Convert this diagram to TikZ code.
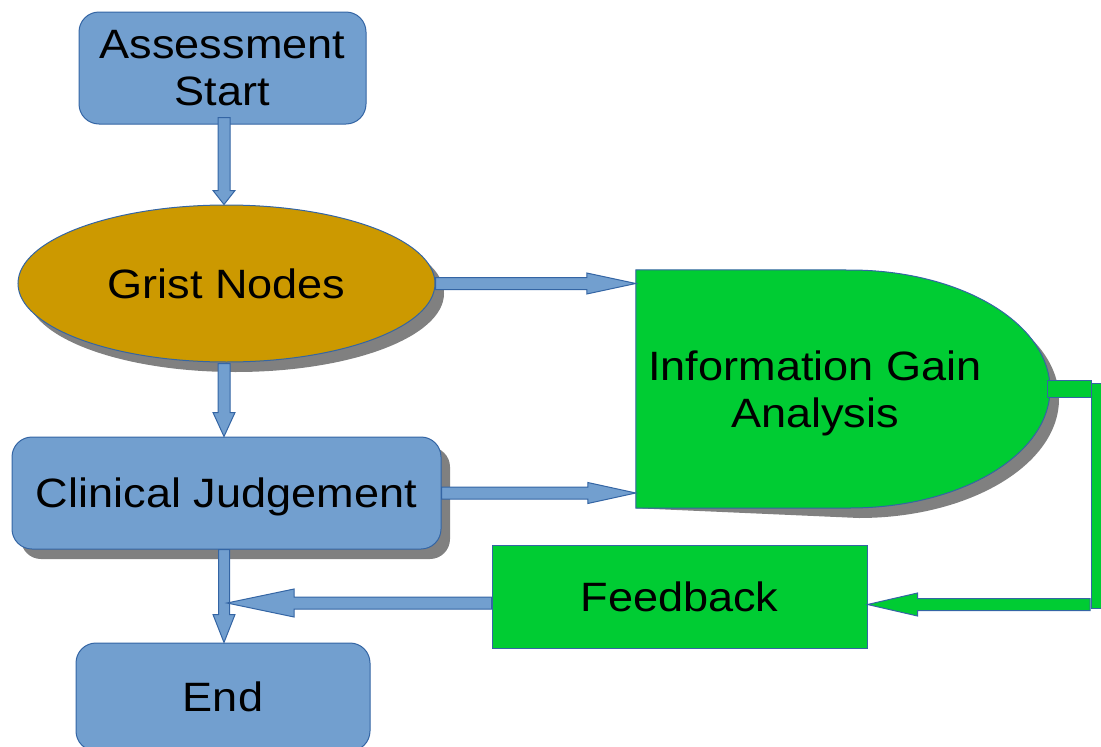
\documentclass[tikz,border=0pt]{standalone}
\usepackage{fontspec}
\setmainfont{Liberation Sans}
\usetikzlibrary{calc,shadows,shapes.geometric}
\definecolor{boxblue}{HTML}{729FCF}
\definecolor{lineblue}{HTML}{3465A4}
\definecolor{gristgold}{HTML}{CC9900}
\definecolor{flowgreen}{HTML}{00CC33}
\definecolor{shadowgray}{HTML}{808080}
\newcommand\sx[1]{\scalebox{1.1}[1]{#1}}
% block arrow: [style]{from}{to}{shaft half width}{head half width}{head length}
\newcommand\blockarrow[6][]{%
  \path (#2) coordinate (baA) (#3) coordinate (baB);
  \pgfpointdiff{\pgfpointanchor{baA}{center}}{\pgfpointanchor{baB}{center}}%
  \pgfgetlastxy\bax\bay
  \pgfmathsetmacro\balen{veclen(\bax,\bay)}%
  \pgfmathsetmacro\baang{atan2(\bay,\bax)}%
  \draw[barrow,#1,shift={(baA)},rotate=\baang]
    (0,-#4) -- (\balen-#6,-#4) -- (\balen-#6,-#5) -- (\balen,0)
    -- (\balen-#6,#5) -- (\balen-#6,#4) -- (0,#4) -- cycle;
}
\begin{document}
\begin{tikzpicture}[x=1pt,y=-1pt,
  lbl/.style={font=\fontsize{41}{46.5}\selectfont, text=black, align=center, inner sep=2pt, text depth=0pt},
  bluebox/.style={lbl, rectangle, rounded corners=20, fill=boxblue, draw=lineblue, line width=1pt},
  shadowed/.style={drop shadow={shadow xshift=9pt, shadow yshift=-10pt, fill=shadowgray, opacity=1}},
  greenbox/.style={lbl, rectangle, fill=flowgreen, draw=lineblue, line width=1pt},
  barrow/.style={fill=boxblue, draw=lineblue, line width=1pt, line join=miter},
  garrow/.style={fill=flowgreen, draw=lineblue, line width=1pt, line join=miter}]
\useasboundingbox (0,0) rectangle (1101,747);
\clip (0,0) rectangle (1101,747);

% nodes
\node[bluebox, minimum width=287, minimum height=112] (start) at (222.5,68) {\sx{Assessment}\\\sx{Start}};
\node[lbl, ellipse, fill=gristgold, draw=lineblue, line width=1pt, shadowed,
      minimum width=417, minimum height=157] (grist) at (226.5,283.5) {\sx{Grist Nodes}};
\node[bluebox, shadowed, minimum width=429, minimum height=112] (clin) at (226.5,493) {\sx{Clinical Judgement}};
\node[bluebox, minimum width=294, minimum height=108] (end) at (223,697) {\sx{End}};
\node[greenbox, minimum width=375, minimum height=103] (fb) at (679.5,596.5) {\sx{Feedback}};

% Information Gain Analysis (delay shape)
\node[rectangle, minimum width=414, minimum height=238, inner sep=0pt] (info) at (843,389) {};
\fill[shadowgray, shift={(9,10)}] (info.north west) -- (850,270)
  arc[start angle=-90, end angle=90, x radius=200, y radius=119] -- (info.south west) -- cycle;
\draw[fill=flowgreen, draw=lineblue, line width=1pt] (info.north west) -- (850,270)
  arc[start angle=-90, end angle=90, x radius=200, y radius=119] -- (info.south west) -- cycle;
\node[lbl] (infotxt) at (815,389) {\sx{Information Gain}\\\sx{Analysis}};

% connectors (vertical ones share one axis)
\coordinate (axis) at (224,0);
\blockarrow{$(start.south -| axis)+(0,-7)$}{grist.north -| axis}{6}{11}{14}
\blockarrow{$(grist.south -| axis)+(0,1)$}{clin.north -| axis}{6}{11}{24}
\blockarrow{grist.east}{grist.east -| info.west}{6}{10.5}{49}
\blockarrow{clin.east}{clin.east -| info.west}{6}{10.5}{48}
\blockarrow{clin.south -| axis}{end.north -| axis}{5.5}{11}{28}
\coordinate (joint) at ($(axis |- fb.west)+(3,6.5)$);
\blockarrow{$(fb.west)+(0,6.5)$}{joint}{6}{14}{67}

% green elbow connector Information Gain -> Feedback
\coordinate (e1) at ($(info.east)+(41,0)$);
\coordinate (fbtip) at ($(fb.east)+(0,8)$);
\coordinate (e2) at (e1 |- fbtip);
\draw[garrow] ($(e1)+(0,-6)$) rectangle ($(e2)+(20,4)$);
\draw[garrow] ($(info.east)+(-3,-9)$) rectangle ($(e1)+(0,8)$);
\blockarrow[garrow]{$(e2)+(-1,0)$}{fbtip}{6}{11.5}{50}
\end{tikzpicture}
\end{document}
